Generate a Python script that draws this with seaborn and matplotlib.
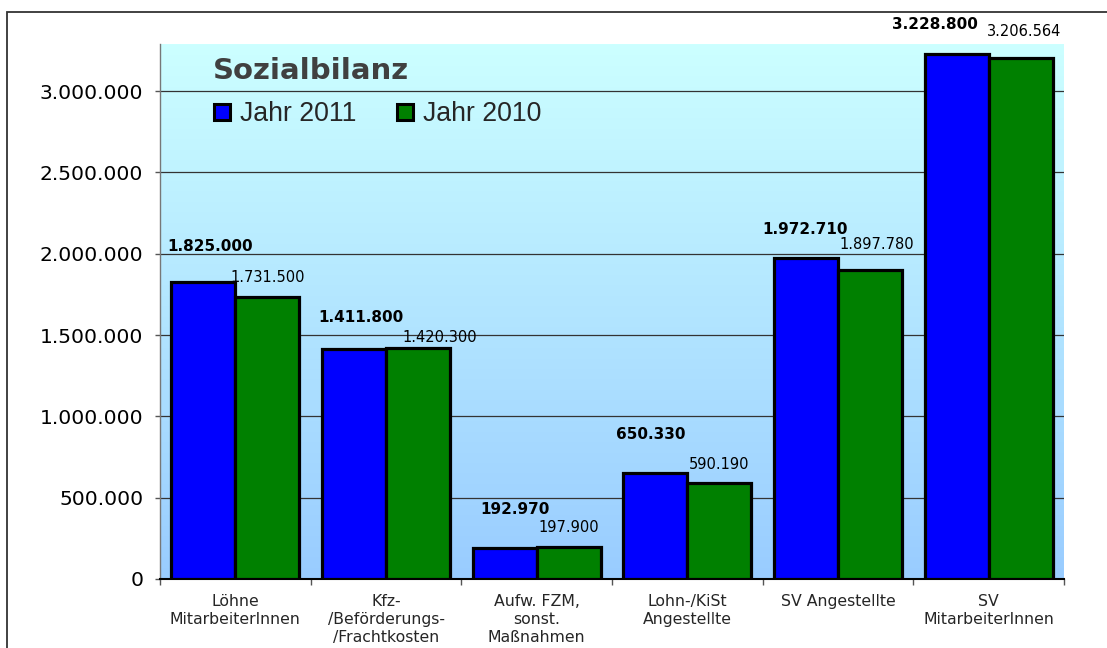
import matplotlib
matplotlib.use("Agg")
import matplotlib.pyplot as plt
import matplotlib.ticker as mticker
from matplotlib.patches import Rectangle
from matplotlib.lines import Line2D
import numpy as np
import pandas as pd
import seaborn as sns

# ---- data ----
categories = [
    "Löhne\nMitarbeiterInnen",
    "Kfz-\n/Beförderungs-\n/Frachtkosten",
    "Aufw. FZM,\nsonst.\nMaßnahmen",
    "Lohn-/KiSt\nAngestellte",
    "SV Angestellte",
    "SV\nMitarbeiterInnen",
]
values_2011 = [1825000, 1411800, 192970, 650330, 1972710, 3228800]
values_2010 = [1731500, 1420300, 197900, 590190, 1897780, 3206564]
series_names = ["Jahr 2011", "Jahr 2010"]
ytick_values = [0, 500000, 1000000, 1500000, 2000000, 2500000, 3000000]

# label placement tweaks (pixels, relative to bar top centre), as in the original
dx_2011 = [7, 7, 10, -5, -1, -22]
dy_2011 = [36, 32, 38, 39, 29, 29]
dx_2010 = [0, 22, 0, 0, 7, 3]
dy_2010 = [20, 11, 19, 19, 26, 26]

def de_fmt(v):
    return f"{v:,.0f}".replace(",", ".")

df = pd.DataFrame({
    "cat": categories * 2,
    "val": values_2011 + values_2010,
    "series": [series_names[0]] * len(categories) + [series_names[1]] * len(categories),
})

sns.set_theme(style="white")
plt.rcParams["font.family"] = ["DejaVu Sans"]

W, H = 1107, 648
fig = plt.figure(figsize=(W / 100, H / 100), dpi=100)
ax_left, ax_right, ax_top, ax_bottom = 160, 1064, 44, 579
ax = fig.add_axes([ax_left / W, 1 - ax_bottom / H, (ax_right - ax_left) / W, (ax_bottom - ax_top) / H])

# gradient background
grad = np.linspace(0, 1, 256).reshape(-1, 1)
top_c = np.array([204, 255, 255]) / 255
bot_c = np.array([153, 204, 255]) / 255
img = (top_c[None, None, :] * (1 - grad[:, :, None]) + bot_c[None, None, :] * grad[:, :, None])
ax.imshow(img, extent=[0, 1, 0, 1], transform=ax.transAxes, aspect="auto", zorder=-2, origin="upper")

colors = ["#0000FF", "#008000"]
sns.barplot(data=df, x="cat", y="val", hue="series", hue_order=series_names,
            palette=colors, width=0.85, edgecolor="black", linewidth=2.3,
            saturation=1, legend=False, ax=ax, zorder=3, err_kws={"linewidth": 0})

ax.set_xlim(-0.5, len(categories) - 0.5)
ax.set_ylim(0, 3290000)
ax.set_xlabel("")
ax.set_ylabel("")

# grid
ax.set_axisbelow(True)
ax.yaxis.grid(True, color="#333333", linewidth=0.9)
ax.xaxis.grid(False)
ax.set_yticks(ytick_values)
ax.yaxis.set_major_formatter(mticker.FuncFormatter(lambda v, p: de_fmt(v)))
ax.tick_params(axis="y", which="major", length=3.6, width=1, color="#555555",
               labelsize=14.6, pad=8.5, direction="out", left=True)
for t in ax.get_yticklabels():
    t.set_color("black")

# x ticks: labels at centres, tick marks at boundaries
ax.set_xticks(range(len(categories)))
ax.set_xticklabels(categories, fontsize=11.3, linespacing=1.22, va="top")
ax.set_xticks(np.arange(-0.5, len(categories), 1.0), minor=True)
ax.tick_params(axis="x", which="major", length=0, pad=11)
ax.tick_params(axis="x", which="minor", length=4, width=1, color="#555555", bottom=True, direction="out")

for s in ["top", "right"]:
    ax.spines[s].set_visible(False)
ax.spines["left"].set_color("#777777")
ax.spines["left"].set_linewidth(1)
ax.spines["bottom"].set_color("black")
ax.spines["bottom"].set_linewidth(1.5)

# value labels
for ci, cont in enumerate(ax.containers[:2]):
    dxs = dx_2011 if ci == 0 else dx_2010
    dys = dy_2011 if ci == 0 else dy_2010
    for i, bar in enumerate(cont):
        x = bar.get_x() + bar.get_width() / 2
        y = bar.get_height()
        ax.annotate(de_fmt(y), (x, y), xytext=(dxs[i], dys[i]), textcoords="offset pixels",
                    ha="center", va="center", fontsize=11 if ci == 0 else 10.5,
                    fontweight="bold" if ci == 0 else "normal", color="black",
                    annotation_clip=False, zorder=5)

# title
ax.text((213 - ax_left) / (ax_right - ax_left), (ax_bottom - 71) / (ax_bottom - ax_top),
        "Sozialbilanz", transform=ax.transAxes, fontsize=21, fontweight="bold",
        color="#404040", ha="left", va="center", zorder=6)

# legend
handles = [Line2D([0], [0], marker="s", linestyle="none", markersize=11,
                  markerfacecolor=c, markeredgecolor="black", markeredgewidth=2.2)
           for c in colors]
leg = ax.legend(handles, series_names, loc="center left",
                bbox_to_anchor=((211 - ax_left) / (ax_right - ax_left), (ax_bottom - 114) / (ax_bottom - ax_top)),
                ncol=2, frameon=False, handlelength=0.8, handletextpad=0.3, columnspacing=1.4,
                prop={"family": "Liberation Sans", "size": 19.2}, borderaxespad=0, borderpad=0)
leg.set_zorder(6)

# outer chart border (left and top visible)
fig.patches.append(Rectangle((7 / W, -0.2), 2.0, (1 - 12 / H) + 0.2, transform=fig.transFigure,
                             fill=False, edgecolor="#333333", linewidth=1.3))

fig.savefig("out.png", dpi=100, facecolor="white")
